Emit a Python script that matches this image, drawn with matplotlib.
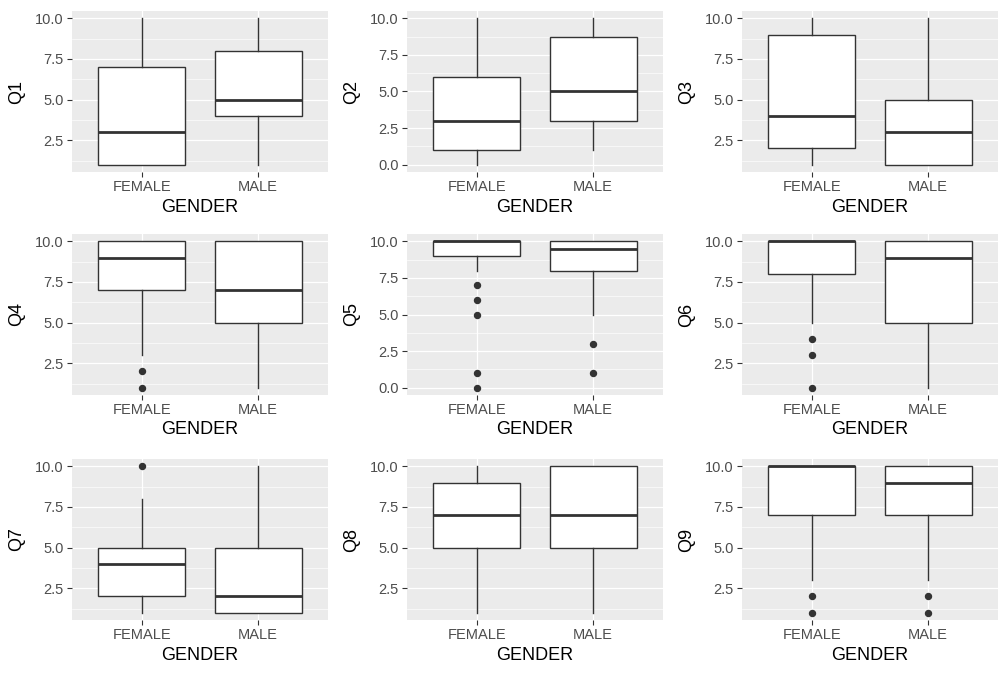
import matplotlib
matplotlib.use("Agg")
import matplotlib.pyplot as plt
from matplotlib.ticker import FormatStrFormatter, MultipleLocator

plt.rcParams["font.family"] = ["Liberation Sans", "DejaVu Sans"]

questions = ["Q1", "Q2", "Q3", "Q4", "Q5", "Q6", "Q7", "Q8", "Q9"]
groups = ["FEMALE", "MALE"]

# five-number summaries per question (ggplot-style: whisker ends, hinges, median)
female_lo = [1, 0, 1, 3, 8, 5, 1, 1, 3]
female_q1 = [1, 1, 2, 7, 9, 8, 2, 5, 7]
female_med = [3, 3, 4, 9, 10, 10, 4, 7, 10]
female_q3 = [7, 6, 9, 10, 10, 10, 5, 9, 10]
female_hi = [10, 10, 10, 10, 10, 10, 8, 10, 10]
female_out = [[], [], [], [2, 1], [7, 6, 5, 1, 0], [4, 3, 1], [10], [], [2, 1]]

male_lo = [1, 1, 1, 1, 5, 1, 1, 1, 3]
male_q1 = [4, 3, 1, 5, 8, 5, 1, 5, 7]
male_med = [5, 5, 3, 7, 9.5, 9, 2, 7, 9]
male_q3 = [8, 8.75, 5, 10, 10, 10, 5, 10, 10]
male_hi = [10, 10, 10, 10, 10, 10, 10, 10, 10]
male_out = [[], [], [], [], [3, 1], [], [], [], [2, 1]]

W, H = 1004, 677
col_left = [72, 407, 742]
row_top = [11, 234, 459]
pw, ph = 256, 161

BG = "#EBEBEB"
DARK = "#333333"
TXT = "#4D4D4D"

fig = plt.figure(figsize=(W / 100, H / 100), dpi=100, facecolor="white")

for i, q in enumerate(questions):
    r, c = divmod(i, 3)
    ax = fig.add_axes([col_left[c] / W, 1 - (row_top[r] + ph) / H, pw / W, ph / H])
    ax.set_facecolor(BG)
    for s in ax.spines.values():
        s.set_visible(False)

    stats = []
    for name, lo, q1, med, q3, hi, out in [
        (groups[0], female_lo, female_q1, female_med, female_q3, female_hi, female_out),
        (groups[1], male_lo, male_q1, male_med, male_q3, male_hi, male_out),
    ]:
        stats.append(dict(label=name, whislo=lo[i], q1=q1[i], med=med[i],
                          q3=q3[i], whishi=hi[i], fliers=out[i]))

    ax.bxp(stats, positions=[1, 2], widths=0.75, patch_artist=True, showcaps=False,
           boxprops=dict(facecolor="white", edgecolor=DARK, linewidth=1.0),
           medianprops=dict(color=DARK, linewidth=2.0, solid_capstyle="butt"),
           whiskerprops=dict(color=DARK, linewidth=1.0),
           flierprops=dict(marker="o", markersize=4.3, markerfacecolor=DARK,
                           markeredgecolor=DARK, linestyle="none"),
           zorder=3)

    # axis range with 5% padding around all points
    vals = [s["whislo"] for s in stats] + [s["whishi"] for s in stats]
    for s in stats:
        vals += list(s["fliers"])
    lo, hi = min(vals), max(vals)
    pad = (hi - lo) * 0.05
    ax.set_ylim(lo - pad, hi + pad)
    ax.set_xlim(0.4, 2.6)

    ax.yaxis.set_major_locator(MultipleLocator(2.5))
    ax.yaxis.set_minor_locator(MultipleLocator(1.25))
    ax.yaxis.set_major_formatter(FormatStrFormatter("%.1f"))
    ax.set_xticks([1, 2])
    ax.set_xticklabels(groups)

    ax.grid(True, which="major", color="white", linewidth=0.9, zorder=0)
    ax.grid(True, which="minor", axis="y", color="white", linewidth=0.45, zorder=0)
    ax.set_axisbelow(True)

    ax.tick_params(axis="both", which="major", length=3.5, width=0.8, color=DARK,
                   labelcolor=TXT, labelsize=10.5, pad=2.5)
    ax.tick_params(axis="both", which="minor", length=0)

    ax.set_xlabel("GENDER", fontsize=13, color="black", labelpad=3)
    ax.set_ylabel(q, fontsize=13, color="black", labelpad=7)

fig.savefig("out.png", dpi=100, facecolor="white")
